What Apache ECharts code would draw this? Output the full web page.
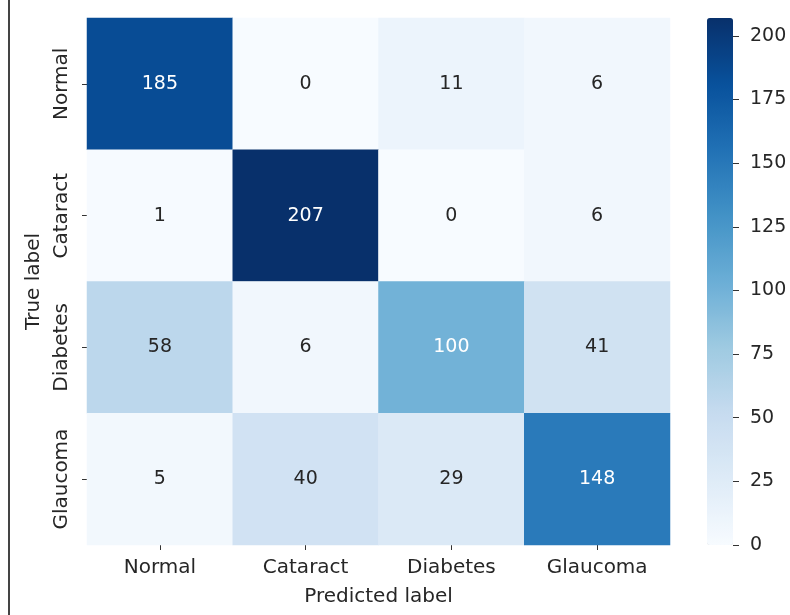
<!DOCTYPE html>
<html>
<head>
<meta charset="utf-8">
<script src="https://cdn.jsdelivr.net/npm/echarts@6/dist/echarts.min.js"></script>
<style>
html,body{margin:0;padding:0;background:#fff;}
#main{width:790px;height:615px;}
#edge{position:absolute;left:8px;top:0;width:2px;height:615px;background:#444;}
</style>
</head>
<body>
<div id="edge"></div>
<div id="main"></div>
<script>
// class names (rows = true, cols = predicted)
var classes = ['Normal', 'Cataract', 'Diabetes', 'Glaucoma'];
// confusion matrix rows
var rowNormal = [185, 0, 11, 6];
var rowCataract = [1, 207, 0, 6];
var rowDiabetes = [58, 6, 100, 41];
var rowGlaucoma = [5, 40, 29, 148];
var matrix = [rowNormal, rowCataract, rowDiabetes, rowGlaucoma];
var cbarMax = 207;
var cbarTicks = [0, 25, 50, 75, 100, 125, 150, 175, 200];

var blues = ['#f7fbff','#deebf7','#c6dbef','#9ecae1','#6baed6','#4292c6','#2171b5','#08519c','#08306b'];

var cells = [];
for (var r = 0; r < matrix.length; r++) {
	for (var c = 0; c < matrix[r].length; c++) {
		var v = matrix[r][c];
		cells.push({
			value: [c, r, v],
			label: { color: v > cbarMax / 2 - 10 ? '#ffffff' : '#262626' }
		});
	}
}

var font = 'DejaVu Sans';
var myChart = echarts.init(document.getElementById('main'));
var option = {
	animation: false,
	textStyle: { fontFamily: font },
	grid: [
		{ left: 87, top: 18, width: 583, height: 527 },
		// colorbar axis
		{ left: 707, top: 18, width: 26, height: 527 }
	],
	xAxis: [
		{
			type: 'category',
			gridIndex: 0,
			data: classes,
			name: 'Predicted label',
			nameLocation: 'middle',
			nameGap: 42,
			nameTextStyle: { fontSize: 20, color: '#262626', fontFamily: font },
			axisLine: { show: false },
			axisTick: { show: true, alignWithLabel: true, length: 5, lineStyle: { color: '#333' } },
			axisLabel: { fontSize: 20, color: '#262626', margin: 13, fontFamily: font },
			splitLine: { show: false }
		},
		{
			type: 'value', gridIndex: 1, show: false, min: 0, max: 1
		}
	],
	yAxis: [
		{
			type: 'category',
			gridIndex: 0,
			data: classes,
			inverse: true,
			name: 'True label',
			nameLocation: 'middle',
			nameGap: 42,
			nameTextStyle: { fontSize: 20, color: '#262626', fontFamily: font },
			axisLine: { show: false },
			axisTick: { show: true, alignWithLabel: true, length: 5, lineStyle: { color: '#333' } },
			axisLabel: { fontSize: 20, color: '#262626', rotate: 90, margin: 15, fontFamily: font },
			splitLine: { show: false }
		},
		{
			type: 'value',
			gridIndex: 1,
			position: 'right',
			min: 0,
			max: cbarMax,
			interval: 25,
			axisLine: { show: false, onZero: false },
			axisTick: { show: true, length: 6, customValues: cbarTicks, lineStyle: { color: '#333' } },
			axisLabel: {
				fontSize: 19, color: '#262626', margin: 17, fontFamily: font,
				customValues: cbarTicks
			},
			splitLine: { show: false }
		}
	],
	visualMap: {
		type: 'continuous',
		min: 0,
		max: cbarMax,
		seriesIndex: 0,
		calculable: false,
		showLabel: false,
		text: null,
		left: 707,
		top: 18,
		itemWidth: 26,
		itemHeight: 527,
		padding: 0,
		inRange: { color: blues }
	},
	series: [
		{
			type: 'heatmap',
			xAxisIndex: 0,
			yAxisIndex: 0,
			data: cells,
			label: { show: true, fontSize: 19, fontFamily: font },
			itemStyle: { borderWidth: 0 }
		}
	]
};
myChart.setOption(option);
</script>
</body>
</html>
